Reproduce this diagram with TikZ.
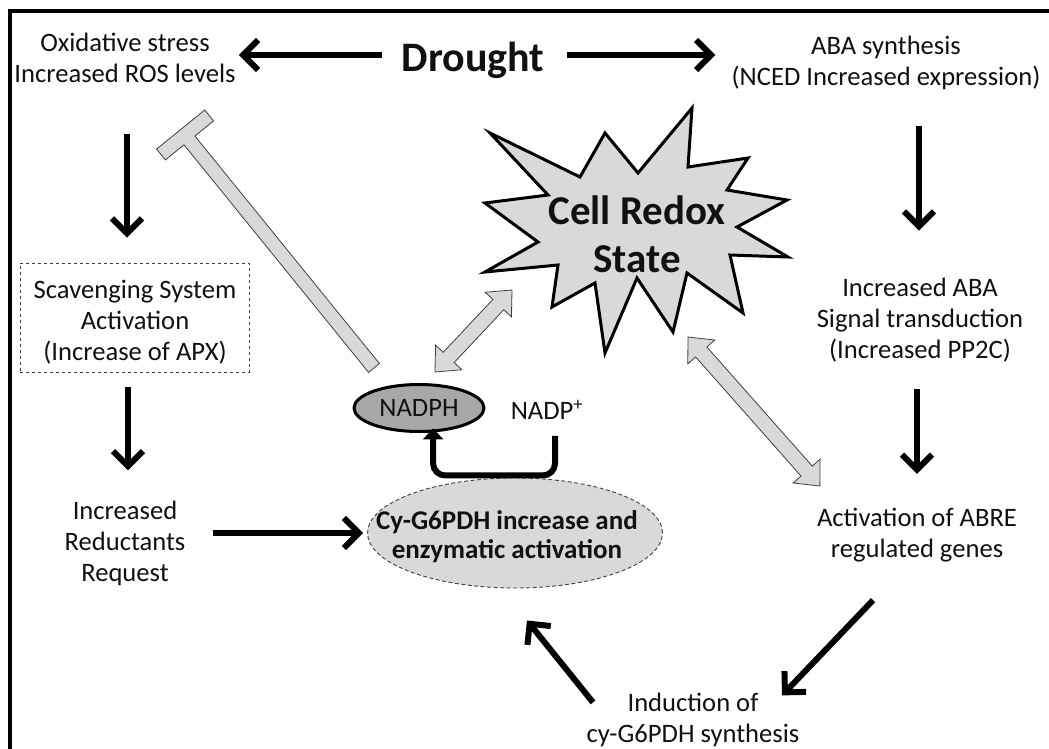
\documentclass[tikz,border=0pt]{standalone}
\usepackage{fontspec}
\setmainfont{Carlito}
\usetikzlibrary{arrows.meta,shapes.geometric,calc}
\definecolor{lgray}{HTML}{D9D9D9}
\definecolor{mgray}{HTML}{A8A8A8}
\definecolor{edgegray}{HTML}{404040}
\definecolor{ink}{HTML}{111111}
\newcommand{\grayarrow}[3]{%
  \begin{scope}[shift={(#1)}, rotate=#2]
    \filldraw[fill=lgray, draw=edgegray, line width=0.8pt]
      (0,0) -- (20,18) -- (20,7.5) -- (#3-20,7.5) -- (#3-20,18) -- (#3,0)
      -- (#3-20,-18) -- (#3-20,-7.5) -- (20,-7.5) -- (20,-18) -- cycle;
  \end{scope}}
\begin{document}
\begin{tikzpicture}[x=1pt,y=-1pt,
  txt/.style={font=\fontsize{26.6}{31}\selectfont, align=center, inner sep=0pt, text=ink},
  blk/.style={line width=6pt, draw=black, -{Straight Barb[length=15pt,width=30pt]}},
  uarr/.style={line width=6pt, draw=black, rounded corners=12pt, -{Triangle[length=11pt,width=20pt]}},
  ]
\useasboundingbox (0,0) rectangle (1049,749);
\clip (0,0) rectangle (1049,749);
\fill[white] (0,0) rectangle (1049,749);
\draw[line width=4pt] (10,11) rectangle (1080,780);

% texts
\node[txt] (oxi) at (125,57.5) {Oxidative stress\\Increased ROS levels};
\node[txt, font=\bfseries\fontsize{42}{48}\selectfont, anchor=base] (drought) at (473,72) {Drought};
\node[txt] (aba) at (886,63) {ABA synthesis\\(NCED Increased expression)};
\node[txt, draw=edgegray, dashed, line width=0.8pt, minimum width=229, minimum height=109] (scav) at (134.5,317.5) {};
\node[txt] (scavt) at (135,322) {Scavenging System\\Activation\\(Increase of APX)};
\node[txt] (red) at (125,543) {Increased\\Reductants\\Request};
\node[txt] (abasig) at (920,320) {Increased ABA\\Signal transduction\\(Increased PP2C)};
\node[txt] (abre) at (917,535) {Activation of ABRE\\regulated genes};
\node[txt] (induct) at (693,720) {Induction of\\cy-G6PDH synthesis};

% G6PDH ellipse
\node[ellipse, fill=lgray, draw=edgegray, dash pattern=on 4pt off 2.5pt, line width=0.9pt,
      minimum width=295, minimum height=110, inner sep=0pt] (g6pdh) at (515,533) {};
\node[txt, font=\bfseries\fontsize{27}{29}\selectfont] (g6pdht) at (507,537) {Cy-G6PDH increase and\\enzymatic activation};

% NADPH
\node[ellipse, fill=mgray, draw=black, line width=3pt, minimum width=130, minimum height=47, inner sep=0pt] (nadph) at (419,408) {};
\node[txt] (nadpht) at (419,408) {NADPH};
\node[txt] (nadp) at (547,410) {NADP\textsuperscript{+}};

% Star
\filldraw[fill=lgray, draw=black, line width=3pt, line join=miter]
  (692,108) -- (688,167) -- (748,158) -- (727,190) -- (787,200) -- (737,227)
  -- (788,257) -- (730,255) -- (743,313) -- (687,273) -- (673,332) -- (637,278)
  -- (605,353) -- (595,283) -- (552,307) -- (558,265) -- (485,272) -- (538,242)
  -- (485,203) -- (548,195) -- (490,133) -- (580,177) -- (605,133) -- (638,173) -- cycle;
\node[txt, font=\bfseries\fontsize{41}{48}\selectfont] (redox) at (637,234) {Cell Redox\\State};

% inhibition bar
\begin{scope}[shift={(374,368)}, rotate=129.04]
  \filldraw[fill=lgray, draw=edgegray, line width=0.8pt]
    (0,-7) -- (293,-7) -- (293,-31) -- (307,-31) -- (307,31) -- (293,31) -- (293,7) -- (0,7) -- cycle;
\end{scope}

% gray double arrows
\grayarrow{435,372}{46.8}{112.5}
\grayarrow{688,337}{-48.5}{199}

% black arrows
\draw[blk, shorten <=19pt, shorten >=3pt] (drought.west |- 0,55) -- (oxi.east |- 0,55);
\draw[blk, shorten <=22pt, shorten >=16pt] (drought.east |- 0,55) -- (aba.west |- 0,55);
\draw[blk, shorten <=51pt, shorten >=25pt] (oxi.south -| 127,0) -- (scav.north -| 127,0);
\draw[blk, shorten <=15pt, shorten >=30pt] (scav.south -| 128,0) -- (red.north -| 128,0);
\draw[blk, shorten <=27pt, shorten >=4pt] (red.east |- g6pdh.west) -- (g6pdh.west);
\draw[blk, shorten <=36pt, shorten >=47pt] (aba.south -| 919,0) -- (abasig.north -| 919,0);
\draw[blk, shorten <=27pt, shorten >=34pt] (abasig.south -| 917,0) -- (abre.north -| 917,0);
\draw[blk] ($(abre.south)+(-44,38)$) -- ($(induct.north)+(89,2.5)$);
\draw[blk] ($(induct.north)+(-100,9.5)$) -- ($(g6pdh.south)+(12,32)$);

% NADP+ -> NADPH
\draw[uarr] ($(nadp.south)+(8,16)$) |- ($(nadph.-60)+(0,43)$) -- ([yshift=4pt]nadph.-60);
\end{tikzpicture}
\end{document}
